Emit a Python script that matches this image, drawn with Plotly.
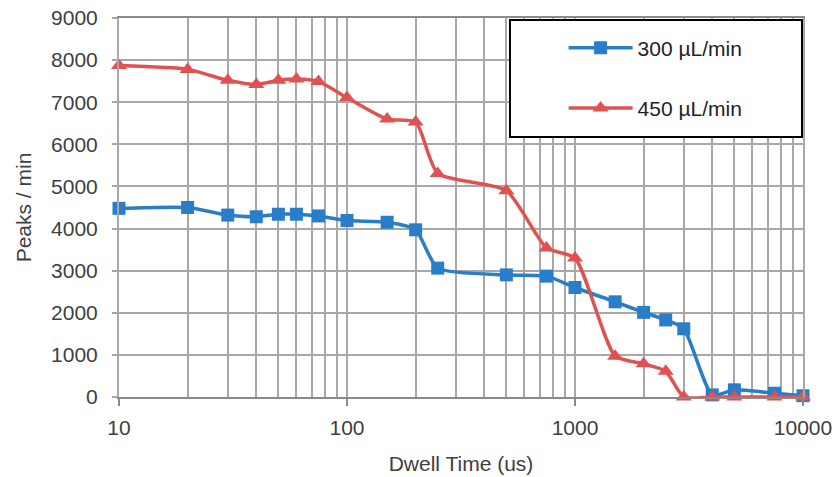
import plotly.graph_objects as go

# Dwell time (us) and measured peak rate for the two flow rates
dwell_time = [10, 20, 30, 40, 50, 60, 75, 100, 150, 200, 250, 500, 750,
              1000, 1500, 2000, 2500, 3000, 4000, 5000, 7500, 10000]
peaks_300 = [4480, 4500, 4320, 4280, 4340, 4340, 4300, 4190, 4150, 3970, 3060,
             2900, 2870, 2600, 2260, 2010, 1830, 1620, 50, 170, 90, 30]
peaks_450 = [7870, 7780, 7520, 7420, 7520, 7550, 7490, 7110, 6600, 6530, 5310,
             4900, 3540, 3300, 970, 790, 610, 0, 0, 0, 0, 0]
series_names = ["300 µL/min", "450 µL/min"]

x_ticks = [10, 100, 1000, 10000]
x_minor = [m * d for d in (10, 100, 1000) for m in range(2, 10)]
y_ticks = list(range(0, 9001, 1000))

BLUE = "#2a7dc8"
RED = "#e05252"
GRID = "#a8a8a8"
TEXT = "#404040"
FONT = "Liberation Sans, Arial, sans-serif"

fig = go.Figure()
fig.add_trace(go.Scatter(
    x=dwell_time, y=peaks_300, name=series_names[0], legendgroup="a",
    mode="lines+markers", cliponaxis=False,
    line=dict(color=BLUE, width=3.5, shape="spline", smoothing=0.6),
    marker=dict(symbol="square", size=13, color=BLUE),
))
fig.add_trace(go.Scatter(
    x=dwell_time, y=peaks_450, name=series_names[1], legendgroup="b",
    mode="lines+markers", cliponaxis=False,
    line=dict(color=RED, width=3.5, shape="spline", smoothing=0.6),
    marker=dict(symbol="triangle-up", size=14, color=RED),
))

# legend frame
fig.add_shape(type="rect", xref="paper", yref="paper",
              x0=0.5716, x1=0.9985, y0=0.686, y1=0.995,
              line=dict(color="#000000", width=2), fillcolor="white",
              layer="above")

fig.update_layout(
    width=836, height=477,
    margin=dict(l=119, r=33, t=18, b=80, autoexpand=False),
    paper_bgcolor="white", plot_bgcolor="white",
    font=dict(family=FONT, color=TEXT, size=20),
    showlegend=True,
    legend=dict(
        x=0.650, y=0.975, xanchor="left", yanchor="top",
        bgcolor="rgba(0,0,0,0)", borderwidth=0,
        font=dict(size=21, color="#222222"),
        tracegroupgap=30, itemwidth=64,
    ),
    xaxis=dict(
        type="log", range=[1, 4], automargin=False,
        tickvals=x_ticks, ticktext=[str(v) for v in x_ticks],
        showgrid=True, gridcolor=GRID, gridwidth=2,
        minor=dict(tickvals=x_minor, showgrid=True, gridcolor=GRID, gridwidth=2),
        showline=True, linecolor="#8a8a8a", linewidth=2, mirror=True,
        ticks="outside", ticklen=7, tickcolor="#8a8a8a", tickwidth=2,
        ticklabelstandoff=4,
        tickfont=dict(size=21, color=TEXT),
        title=dict(text="Dwell Time (us)", font=dict(size=21, color=TEXT), standoff=18),
        zeroline=False,
    ),
    yaxis=dict(
        range=[0, 9000], tickvals=y_ticks, automargin=False,
        showgrid=True, gridcolor=GRID, gridwidth=2,
        showline=True, linecolor=GRID, linewidth=2, mirror=True,
        ticks="outside", ticklen=5, tickcolor=GRID, tickwidth=2,
        ticklabelstandoff=10,
        tickfont=dict(size=21, color=TEXT),
        title=dict(text="Peaks / min", font=dict(size=21, color=TEXT), standoff=14),
        zeroline=False,
    ),
)

fig.write_html("out.html")
